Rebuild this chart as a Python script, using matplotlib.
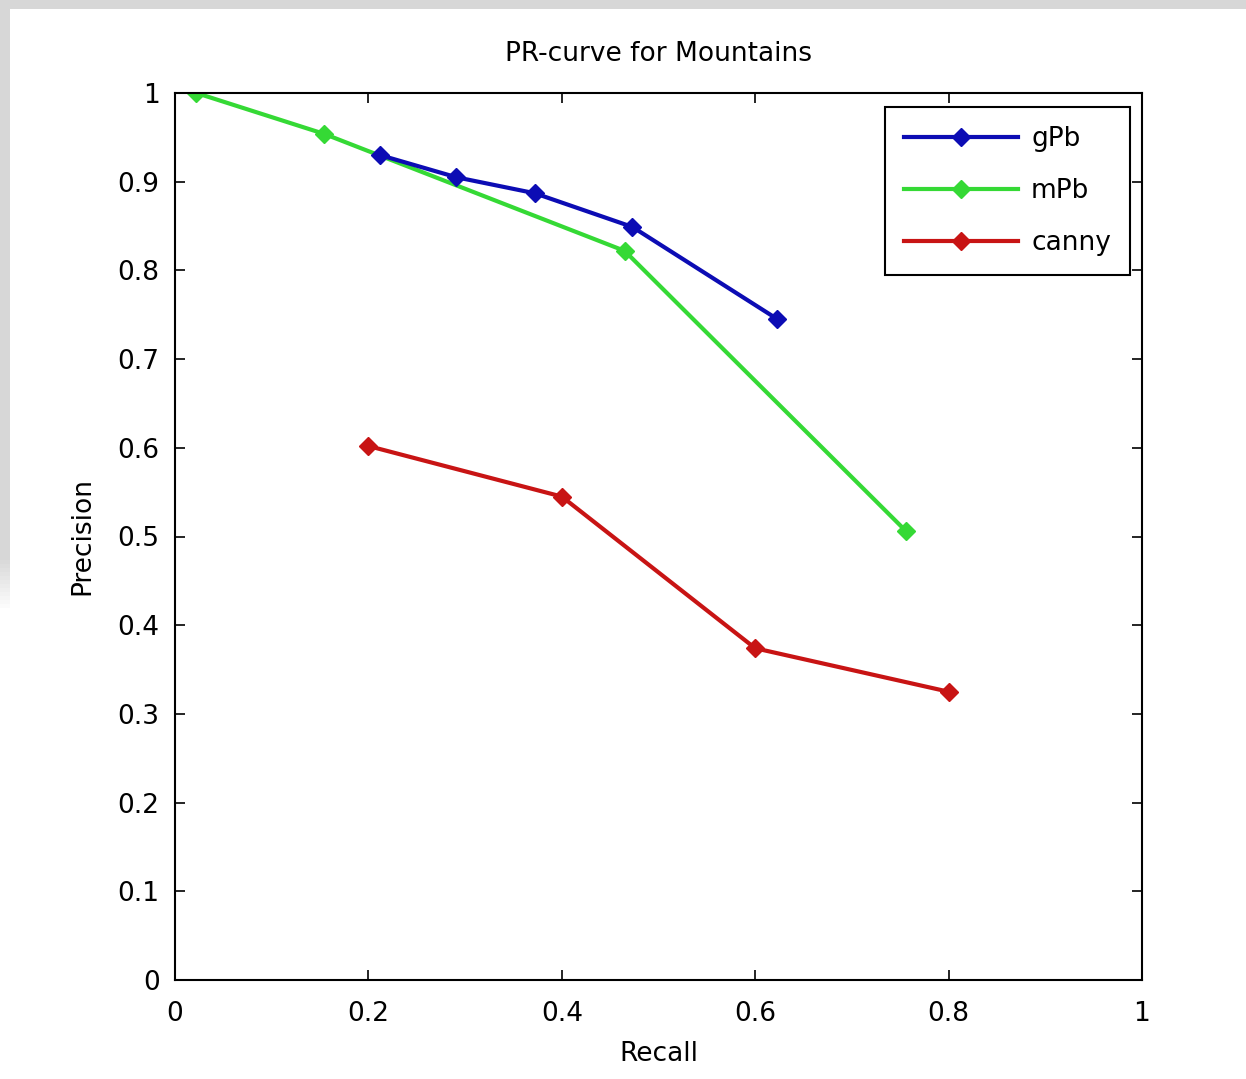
import matplotlib
matplotlib.use("Agg")
import matplotlib.pyplot as plt
from matplotlib.patches import Rectangle

# Precision-recall samples per detector
gpb_recall = [0.212, 0.291, 0.372, 0.473, 0.623]
gpb_precision = [0.930, 0.905, 0.887, 0.849, 0.745]

mpb_recall = [0.022, 0.154, 0.465, 0.756]
mpb_precision = [1.000, 0.954, 0.822, 0.506]

canny_recall = [0.2, 0.4, 0.6, 0.8]
canny_precision = [0.602, 0.545, 0.374, 0.325]

ticks = [0, 0.2, 0.4, 0.6, 0.8, 1]
tick_labels = ["0", "0.2", "0.4", "0.6", "0.8", "1"]
yticks = [0, 0.1, 0.2, 0.3, 0.4, 0.5, 0.6, 0.7, 0.8, 0.9, 1]
ytick_labels = ["0", "0.1", "0.2", "0.3", "0.4", "0.5", "0.6", "0.7", "0.8", "0.9", "1"]

plt.rcParams["font.family"] = ["DejaVu Sans"]

fig = plt.figure(figsize=(12.46, 10.79), dpi=100)
fig.patch.set_facecolor("white")

# light grey frame strips along the top and left edges
W, H = 1246.0, 1079.0
fig.patches.append(Rectangle((0, 1 - 9 / H), 1, 9 / H, transform=fig.transFigure,
                             facecolor="#d7d7d7", edgecolor="none", zorder=0))
fig.patches.append(Rectangle((0, 1 - 560 / H), 10 / W, 560 / H, transform=fig.transFigure,
                             facecolor="#d7d7d7", edgecolor="none", zorder=0))
for i in range(12):
    fig.patches.append(Rectangle((0, 1 - (560 + (i + 1) * 4) / H), 10 / W, 4 / H,
                                 transform=fig.transFigure, facecolor="#d7d7d7",
                                 alpha=1 - (i + 1) / 13, edgecolor="none", zorder=0))

ax = fig.add_axes([175 / W, 1 - 980 / H, (1142 - 175) / W, (980 - 93) / H])

lw = 3.0
ms = 9
ax.plot(gpb_recall, gpb_precision, color="#0c0cb4", lw=lw, marker="D", ms=ms,
        label="gPb", zorder=3)
ax.plot(mpb_recall, mpb_precision, color="#35d935", lw=lw, marker="D", ms=ms,
        label="mPb", zorder=2)
ax.plot(canny_recall, canny_precision, color="#c81414", lw=lw, marker="D", ms=ms,
        label="canny", zorder=2)

ax.set_xlim(0, 1)
ax.set_ylim(0, 1)
ax.set_xticks(ticks)
ax.set_xticklabels(tick_labels)
ax.set_yticks(yticks)
ax.set_yticklabels(ytick_labels)
ax.tick_params(direction="in", length=7, width=1.2, top=True, right=True,
               labelsize=19, colors="black")
ax.tick_params(axis="x", pad=15)
ax.tick_params(axis="y", pad=11)
for s in ax.spines.values():
    s.set_linewidth(1.5)

ax.set_title("PR-curve for Mountains", fontsize=19, pad=23)
ax.set_xlabel("Recall", fontsize=19, labelpad=10)
ax.set_ylabel("Precision", fontsize=19, labelpad=16)

leg = ax.legend(loc="upper right", bbox_to_anchor=(0.9875, 0.984), fontsize=19,
                fancybox=False, framealpha=1, edgecolor="black",
                handlelength=4.3, borderpad=0.72, labelspacing=0.98,
                handletextpad=0.5, borderaxespad=0.0)
leg.get_frame().set_linewidth(1.5)

fig.savefig("out.png", dpi=100)
